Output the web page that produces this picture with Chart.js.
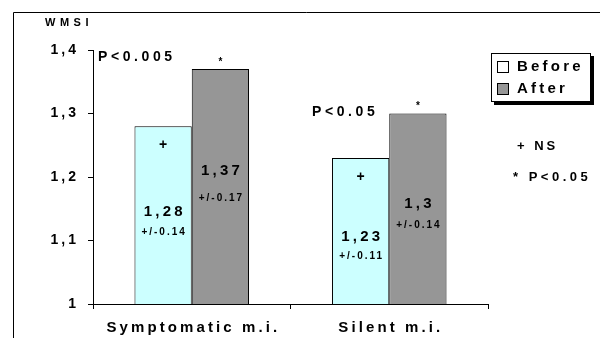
<!DOCTYPE html>
<html>
<head>
<meta charset="utf-8">
<script src="https://cdn.jsdelivr.net/npm/chart.js@4"></script>
<style>
  html, body { margin: 0; padding: 0; background: #fff; }
  #wrap { width: 600px; height: 338px; }
</style>
</head>
<body>
<div id="wrap"><canvas id="chart" width="600" height="338"></canvas></div>
<script>
// Data
const categories = ['Symptomatic m.i.', 'Silent m.i.'];
const beforeValues = [1.28, 1.23];
const afterValues = [1.37, 1.30];
const beforeLabels = ['1,28', '1,23'];
const afterLabels = ['1,37', '1,3'];
const beforeSD = ['+/-0.14', '+/-0.11'];
const afterSD = ['+/-0.17', '+/-0.14'];
const pLabels = ['P<0.005', 'P<0.05'];
const yTicks = [1, 1.1, 1.2, 1.3, 1.4];
const yTickLabels = ['1', '1,1', '1,2', '1,3', '1,4'];

const FONT = '"Liberation Sans", Arial, sans-serif';
const BEFORE_COLOR = '#ccffff';
const AFTER_COLOR = '#969696';

function txt(ctx, s, x, y, size, spacing, align) {
    ctx.save();
    ctx.font = 'bold ' + size + 'px ' + FONT;
    ctx.letterSpacing = spacing + 'px';
    ctx.fillStyle = '#000';
    ctx.textBaseline = 'middle';
    let w = ctx.measureText(s).width - spacing;
    let x0 = x;
    if (align === 'center') x0 = x - w / 2;
    if (align === 'right') x0 = x - w;
    ctx.textAlign = 'left';
    ctx.fillText(s, x0, y);
    ctx.restore();
}

// frame, labels, legend and notes
const decorPlugin = {
    id: 'decor',
    beforeDraw(chart) {
        const ctx = chart.ctx;
        ctx.save();
        ctx.strokeStyle = '#000';
        ctx.lineWidth = 1;
        ctx.beginPath();
        ctx.moveTo(13.5, 338);
        ctx.lineTo(13.5, 12.5);
        ctx.lineTo(600, 12.5);
        ctx.stroke();
        ctx.restore();
    },
    afterDraw(chart) {
        const ctx = chart.ctx;
        const x = chart.scales.x;
        const y = chart.scales.y;
        const mb = chart.getDatasetMeta(0).data;
        const ma = chart.getDatasetMeta(1).data;

        // axis title
        txt(ctx, 'WMSI', 45, 23, 11, 4.5, 'left');

        // y tick labels
        yTicks.forEach((v, i) => {
            txt(ctx, yTickLabels[i], 76, y.getPixelForValue(v), 14, 3, 'right');
        });

        // category labels
        categories.forEach((c, i) => {
            txt(ctx, c, x.getPixelForValue(i), 328, 15, 3.1, 'center');
        });

        // bar annotations
        const valOffB = [86, 79];
        const sdOffB = [106, 98];
        const valOffA = [102, 90];
        const sdOffA = [129, 112];
        for (let i = 0; i < categories.length; i++) {
            const b = mb[i], a = ma[i];
            txt(ctx, '+', b.x, b.y + 19, 14, 0, 'center');
            txt(ctx, '*', a.x, a.y - 7, 10, 0, 'center');
            txt(ctx, beforeLabels[i], b.x, b.y + valOffB[i], 15, 3.2, 'center');
            txt(ctx, beforeSD[i], b.x, b.y + sdOffB[i], 10, 2, 'center');
            txt(ctx, afterLabels[i], a.x, a.y + valOffA[i], 15, 3.2, 'center');
            txt(ctx, afterSD[i], a.x, a.y + sdOffA[i], 10, 2, 'center');
        }
        txt(ctx, pLabels[0], 98, 57, 14, 3.6, 'left');
        txt(ctx, pLabels[1], 312, 112, 14, 3.6, 'left');

        // legend
        ctx.save();
        ctx.fillStyle = '#000';
        ctx.fillRect(494, 56, 100, 49);
        ctx.fillStyle = '#fff';
        ctx.fillRect(491, 53, 100, 49);
        ctx.strokeStyle = '#000';
        ctx.lineWidth = 1;
        ctx.strokeRect(491.5, 53.5, 99, 48);
        ctx.fillStyle = '#fff';
        ctx.fillRect(497, 61, 12, 12);
        ctx.strokeRect(497.5, 61.5, 11, 11);
        ctx.fillStyle = AFTER_COLOR;
        ctx.fillRect(497, 83, 12, 12);
        ctx.strokeRect(497.5, 83.5, 11, 11);
        ctx.restore();
        txt(ctx, 'Before', 517, 67, 15, 3.2, 'left');
        txt(ctx, 'After', 517, 89, 15, 3.2, 'left');

        // notes
        txt(ctx, '+ NS', 517, 146, 13, 3, 'left');
        txt(ctx, '* P<0.05', 513, 177, 13, 3.5, 'left');
    }
};

new Chart(document.getElementById('chart').getContext('2d'), {
    type: 'bar',
    data: {
        labels: categories,
        datasets: [
            {
                label: 'Before',
                data: beforeValues,
                backgroundColor: BEFORE_COLOR,
                borderColor: '#000',
                borderWidth: 1,
                borderSkipped: 'bottom'
            },
            {
                label: 'After',
                data: afterValues,
                backgroundColor: AFTER_COLOR,
                borderColor: '#000',
                borderWidth: 1,
                borderSkipped: 'bottom'
            }
        ]
    },
    options: {
        responsive: false,
        animation: false,
        devicePixelRatio: 1,
        layout: { padding: { left: 13, right: 112, top: 50, bottom: 0 } },
        plugins: {
            legend: { display: false },
            tooltip: { enabled: false }
        },
        datasets: {
            bar: { categoryPercentage: 0.58, barPercentage: 1 }
        },
        scales: {
            x: {
                grid: { drawOnChartArea: false, drawTicks: true, tickLength: 5, color: '#000', offset: true },
                border: { display: true, color: '#000' },
                ticks: { display: false },
                afterFit(scale) { scale.height = 34; }
            },
            y: {
                min: 1,
                max: 1.4,
                afterBuildTicks(scale) { scale.ticks = yTicks.map(v => ({ value: v })); },
                grid: { drawOnChartArea: false, drawTicks: true, tickLength: 5, color: '#000' },
                border: { display: true, color: '#000' },
                ticks: { display: false },
                afterFit(scale) { scale.width = 80; }
            }
        }
    },
    plugins: [decorPlugin]
});
</script>
</body>
</html>
